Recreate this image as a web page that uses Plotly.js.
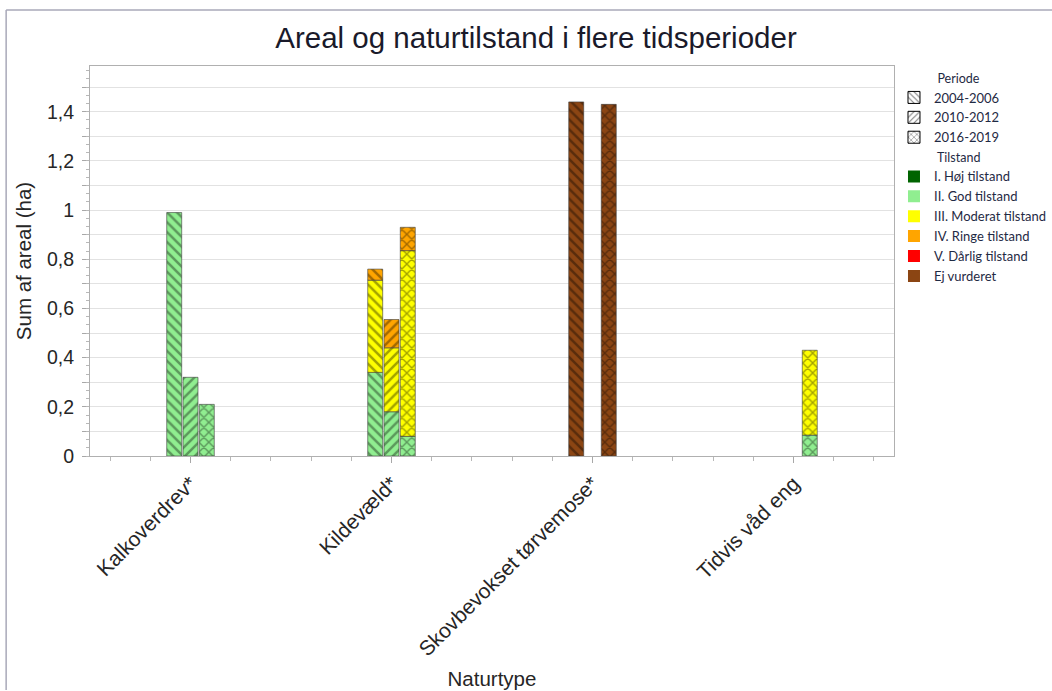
<!DOCTYPE html>
<html>
<head>
<meta charset="utf-8">
<script src="https://cdn.plot.ly/plotly-3.0.1.min.js"></script>
<style>html,body{margin:0;padding:0;background:#fff;}#chart{width:1052px;height:691px;}</style>
</head>
<body>
<div id="chart"></div>
<script>
// ---- Data ----
const categories = ['Kalkoverdrev*', 'Kildevæld*', 'Skovbevokset tørvemose*', 'Tidvis våd eng'];
const periods = ['2004-2006', '2010-2012', '2016-2019'];
const conditions = ['I. Høj tilstand', 'II. God tilstand', 'III. Moderat tilstand', 'IV. Ringe tilstand', 'V. Dårlig tilstand', 'Ej vurderet'];
const conditionColors = ['#006400', '#90EE90', '#FFFF00', '#FFA500', '#FF0000', '#8B4513'];
const periodPatterns = ['\\', '/', 'x'];

// values per period, per condition, per category (ha)
const p2004_hoj      = [null, null, null, null];
const p2004_god      = [0.99, 0.34, null, null];
const p2004_moderat  = [null, 0.375, null, null];
const p2004_ringe    = [null, 0.045, null, null];
const p2004_darlig   = [null, null, null, null];
const p2004_ej       = [null, null, 1.44, null];

const p2010_hoj      = [null, null, null, null];
const p2010_god      = [0.32, 0.18, null, null];
const p2010_moderat  = [null, 0.26, null, null];
const p2010_ringe    = [null, 0.115, null, null];
const p2010_darlig   = [null, null, null, null];
const p2010_ej       = [null, null, null, null];

const p2016_hoj      = [null, null, null, null];
const p2016_god      = [0.21, 0.08, null, 0.085];
const p2016_moderat  = [null, 0.755, null, 0.345];
const p2016_ringe    = [null, 0.095, null, null];
const p2016_darlig   = [null, null, null, null];
const p2016_ej       = [null, null, 1.43, null];

const yTickValues = [0, 0.2, 0.4, 0.6, 0.8, 1, 1.2, 1.4];
const yTickLabels = ['0', '0,2', '0,4', '0,6', '0,8', '1', '1,2', '1,4'];

// ---- Build traces ----
const table = [
  [p2004_hoj, p2004_god, p2004_moderat, p2004_ringe, p2004_darlig, p2004_ej],
  [p2010_hoj, p2010_god, p2010_moderat, p2010_ringe, p2010_darlig, p2010_ej],
  [p2016_hoj, p2016_god, p2016_moderat, p2016_ringe, p2016_darlig, p2016_ej]
];
const xIdx = categories.map((c, i) => i);
const traces = [];
table.forEach((rows, p) => {
  const cum = categories.map(() => 0);
  rows.forEach((vals, c) => {
    const base = cum.slice();
    vals.forEach((v, i) => { if (v != null) cum[i] += v; });
    if (vals.every(v => v == null)) return;
    traces.push({
      type: 'bar',
      x: xIdx,
      y: vals,
      base: base,
      offsetgroup: 'p' + p,
      name: periods[p] + ' ' + conditions[c],
      showlegend: false,
      hoverinfo: 'skip',
      marker: {
        color: conditionColors[c],
        line: {color: 'rgba(60,60,60,0.6)', width: 1},
        pattern: {shape: periodPatterns[p], size: 7, solidity: 0.36, fgcolor: 'rgba(0,0,0,0.72)', fillmode: 'overlay'}
      }
    });
  });
});
const pad = '\u00a0'.repeat(12);
const groupTitleFont = {family: 'Lato, sans-serif', size: 12.5, color: '#1f2a44'};
// legend entries
periods.forEach((per, p) => {
  traces.push({
    type: 'bar', x: [null], y: [null], name: per, legendgroup: 'periode',
    legendgrouptitle: {text: pad + 'Periode', font: groupTitleFont},
    showlegend: true, hoverinfo: 'skip',
    marker: {color: '#ffffff', line: {color: '#000', width: 1},
      pattern: {shape: periodPatterns[p], size: 5, solidity: 0.28, fgcolor: '#000', fillmode: 'overlay'}}
  });
});
conditions.forEach((cond, c) => {
  traces.push({
    type: 'bar', x: [null], y: [null], name: cond, legendgroup: 'tilstand',
    legendgrouptitle: {text: pad + 'Tilstand', font: groupTitleFont},
    showlegend: true, hoverinfo: 'skip',
    marker: {color: conditionColors[c], line: {color: conditionColors[c], width: 0}}
  });
});
// invisible helper trace for fine ticks axis
traces.push({type: 'scatter', x: [null], y: [null], yaxis: 'y2', showlegend: false, hoverinfo: 'skip'});

const axisTitleFont = {family: 'Liberation Sans, Arial, sans-serif', size: 20.5, color: '#262626'};
const layout = {
  width: 1052, height: 691,
  margin: {l: 90, r: 157, t: 66, b: 235},
  paper_bgcolor: '#ffffff', plot_bgcolor: '#ffffff',
  separators: ',.',
  font: {family: 'Liberation Sans, Arial, sans-serif', color: '#262626'},
  title: {text: 'Areal og naturtilstand i flere tidsperioder', x: 0.5095, xref: 'container', xanchor: 'center',
          y: 0.945, yref: 'container', yanchor: 'middle',
          font: {family: 'Liberation Sans, Arial, sans-serif', size: 29.5, color: '#1a1a2a'}},
  barmode: 'group', bargap: 0.757, bargroupgap: 0.08,
  showlegend: true,
  legend: {xref: 'container', yref: 'container', x: 0.8498, xanchor: 'left', y: 0.9085, yanchor: 'top',
           traceorder: 'grouped', tracegroupgap: 0,
           grouptitlefont: groupTitleFont,
           font: {family: 'Lato, sans-serif', size: 13, color: '#1f2a44'}, bgcolor: 'rgba(0,0,0,0)', itemwidth: 30},
  xaxis: {
    type: 'linear', range: [-0.5, 3.5], tickvals: xIdx, ticktext: categories, tickangle: -45,
    tickfont: {family: 'Liberation Sans, Arial, sans-serif', size: 21, color: '#262626'},
    ticks: 'outside', ticklen: 6, tickcolor: '#a8a8a8',
    minor: {dtick: 0.2, tick0: 0, ticks: 'outside', ticklen: 4, tickcolor: '#b8b8b8'},
    showgrid: false, zeroline: false, showline: true, linecolor: '#b0b0b0', mirror: true,
    title: {text: 'Naturtype', font: axisTitleFont, standoff: 12}
  },
  yaxis: {
    range: [0, 1.586], tickvals: yTickValues, ticktext: yTickLabels,
    tickfont: {family: 'Liberation Sans, Arial, sans-serif', size: 19.5, color: '#262626'},
    ticks: 'outside', ticklen: 7, tickcolor: '#a8a8a8', ticklabelstandoff: 4,
    showgrid: true, gridcolor: '#e2e2e2',
    minor: {dtick: 0.1, ticks: 'outside', ticklen: 7, tickcolor: '#a8a8a8', showgrid: true, gridcolor: '#e2e2e2'},
    zeroline: false, showline: true, linecolor: '#b0b0b0', mirror: true,
    title: {text: 'Sum af areal (ha)', font: axisTitleFont, standoff: 9}
  },
  yaxis2: {
    overlaying: 'y', matches: 'y', range: [0, 1.586], dtick: 1/30, tick0: 0,
    showticklabels: false, showgrid: false, zeroline: false, showline: false,
    ticks: 'outside', ticklen: 3, tickcolor: '#b8b8b8', side: 'left'
  },
  shapes: [
    {type: 'line', xref: 'paper', yref: 'paper', x0: -0.1043, x1: -0.1043, y0: 1.1436, y1: -0.6, line: {color: '#a9a9b9', width: 1.5}},
    {type: 'line', xref: 'paper', yref: 'paper', x0: -0.1043, x1: 1.2, y0: 1.1436, y1: 1.1436, line: {color: '#a9a9b9', width: 1.5}}
  ]
};

Plotly.newPlot('chart', traces, layout, {displayModeBar: false, staticPlot: true});
</script>
</body>
</html>
